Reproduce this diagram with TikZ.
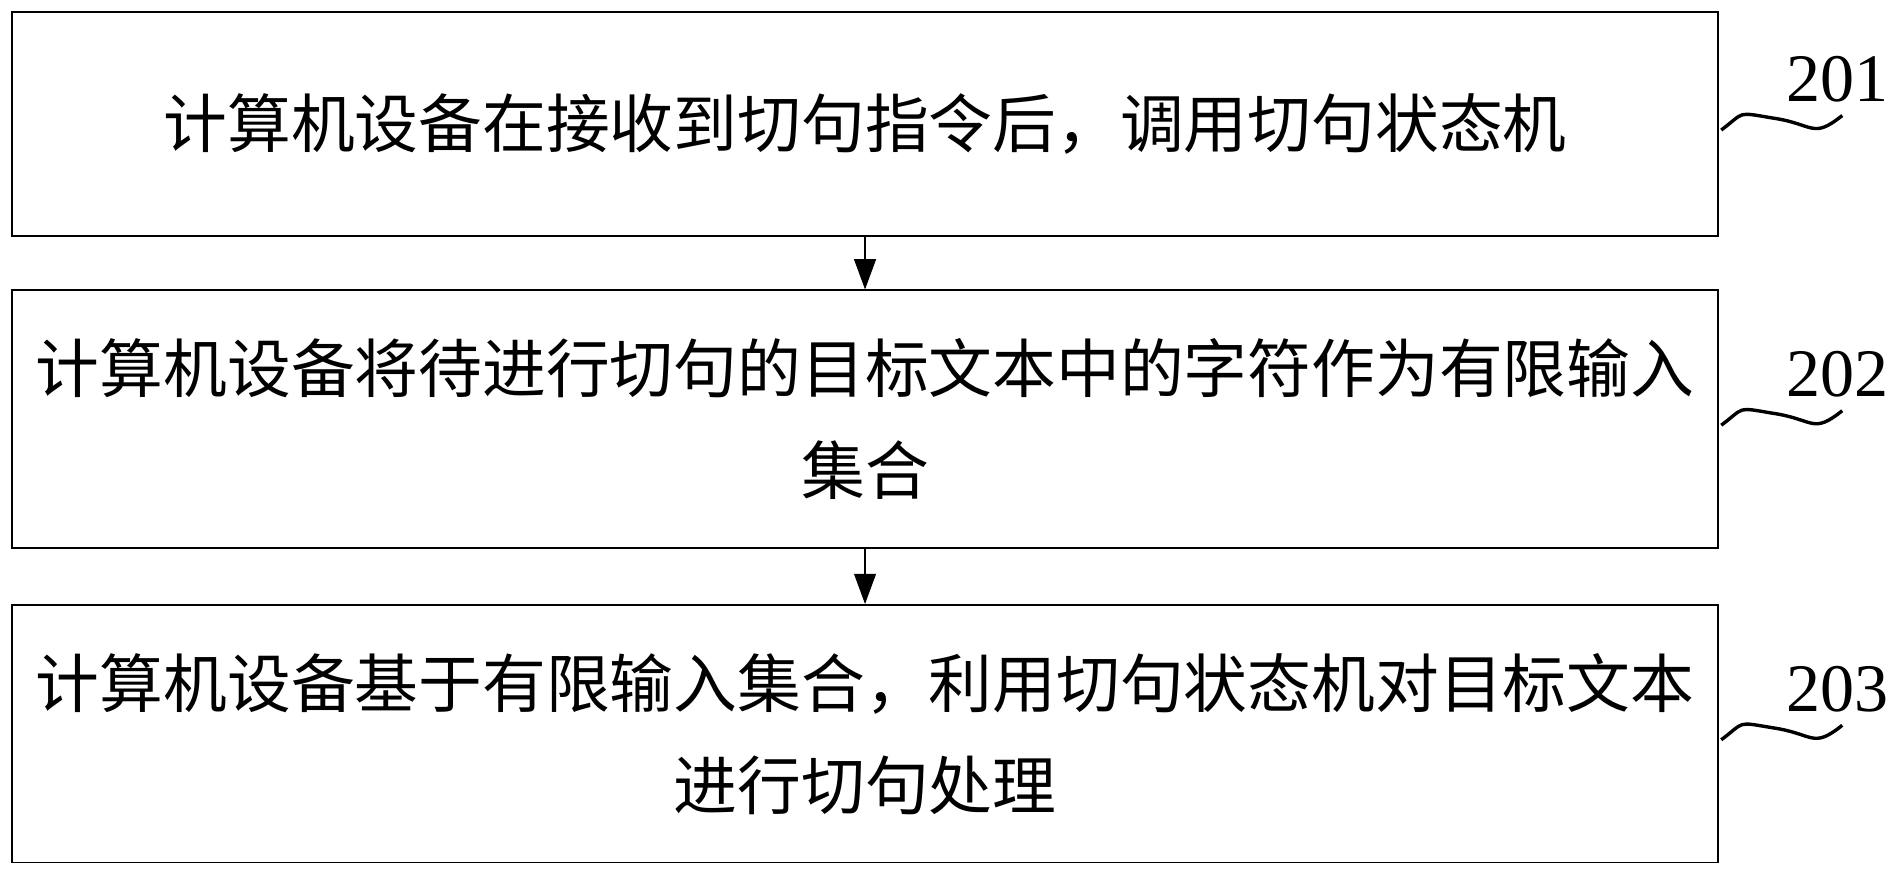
\documentclass[tikz,border=0pt]{standalone}
\usepackage{fontspec}
\setmainfont{Liberation Serif}
\newfontfamily\cjk{Noto Sans CJK SC}
\usetikzlibrary{arrows.meta}

\begin{document}
\begin{tikzpicture}[font=\cjk\fontsize{15}{24}\selectfont, -{Triangle[length=2.5mm,width=1.8mm]}]
	\useasboundingbox (0,0) rectangle (15.63,7.23);
	\tikzset{stepbox/.style={draw, thin, minimum width=14.1cm, align=center, inner sep=0pt},
	         numlabel/.style={font=\rmfamily\fontsize{16}{16}\selectfont}}
	\node[stepbox, minimum height=1.85cm] (s1) at (7.15,6.205) {计算机设备在接收到切句指令后，调用切句状态机};
	\node[stepbox, minimum height=2.13cm] (s2) at (7.15,3.765) {计算机设备将待进行切句的目标文本中的字符作为有限输入\\集合};
	\node[stepbox, minimum height=2.13cm] (s3) at (7.15,1.165) {计算机设备基于有限输入集合，利用切句状态机对目标文本\\进行切句处理};
	\draw (s1) -- (s2);
	\draw (s2) -- (s3);
	% step numbers with wavy leaders
	\foreach \n/\b in {201/s1, 202/s2, 203/s3} {
		\node[numlabel] (n\n) at ([shift={(0.98,0.37)}]\b.east) {\n};
		\draw[-, thick] ([shift={(0.02,-0.05)}]\b.east) .. controls +(0.2,0.15) and +(-0.3,0.05) .. +(0.42,0.1)
			.. controls +(0.35,-0.05) and +(-0.25,-0.2) .. +(1.0,0.12);
	}
\end{tikzpicture}
\end{document}
